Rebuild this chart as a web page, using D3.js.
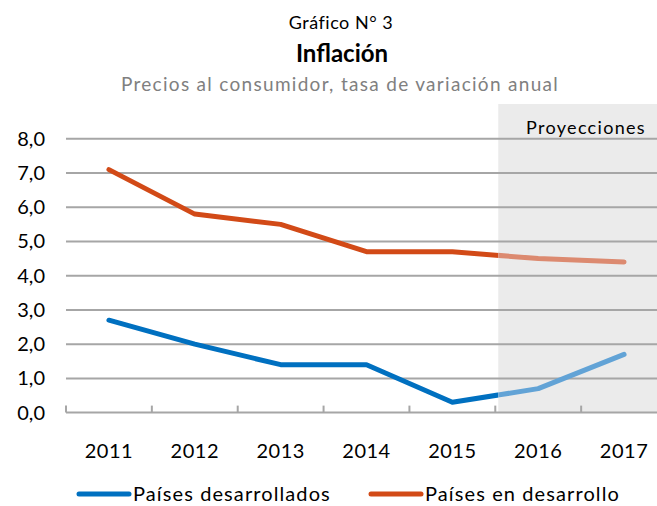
<!DOCTYPE html>
<html>
<head>
<meta charset="utf-8">
<script src="https://cdn.jsdelivr.net/npm/d3@7"></script>
<style>
  body { margin: 0; background: #fff; }
  svg { display: block; font-family: Lato, "Open Sans", sans-serif; }
</style>
</head>
<body>
<svg id="chart" width="657" height="506"></svg>
<script>
// data
const years = ['2011', '2012', '2013', '2014', '2015', '2016', '2017'];
const desarrollados = [2.7, 2.0, 1.4, 1.4, 0.3, 0.7, 1.7];
const enDesarrollo = [7.1, 5.8, 5.5, 4.7, 4.7, 4.5, 4.4];
const yTicks = [0, 1, 2, 3, 4, 5, 6, 7, 8];
const firstProjection = '2016';

const svg = d3.select('#chart');
const W = 657;

const x = d3.scaleBand().domain(years).range([66, 667]).padding(0);
const y = d3.scaleLinear().domain([0, 8]).range([412.6, 138.8]);
const cx = d => x(d) + x.bandwidth() / 2;
const fmt = v => d3.format('.1f')(v).replace('.', ',');

// titles
svg.append('text').attr('x', 341).attr('y', 29).attr('text-anchor', 'middle')
   .style('font-size', '18px').style('letter-spacing', '0.5px').text('Gráfico N° 3');
svg.append('text').attr('x', 342).attr('y', 62).attr('text-anchor', 'middle')
   .style('font-size', '24px').style('font-weight', 'bold').text('Inflación');
svg.append('text').attr('x', 340).attr('y', 91).attr('text-anchor', 'middle')
   .style('font-size', '19px').style('letter-spacing', '1.3px').attr('fill', '#808080')
   .text('Precios al consumidor, tasa de variación anual');

// projection shade
const shadeX = x(firstProjection) + 3;
svg.append('rect').attr('x', shadeX).attr('y', 104)
   .attr('width', W - shadeX).attr('height', y(0) - 104)
   .attr('fill', '#ebebeb');
svg.append('text').attr('x', 586).attr('y', 134).attr('text-anchor', 'middle')
   .style('font-size', '18px').style('letter-spacing', '1.3px').text('Proyecciones');

// gridlines
svg.selectAll('.grid').data(yTicks.slice(1)).enter().append('line')
   .attr('x1', 66).attr('x2', W)
   .attr('y1', d => y(d)).attr('y2', d => y(d))
   .attr('stroke', '#a6a6a6').attr('stroke-width', 2);

// y labels
svg.selectAll('.ylab').data(yTicks).enter().append('text')
   .attr('x', 45).attr('y', d => y(d)).attr('dy', '0.35em')
   .attr('text-anchor', 'end').style('font-size', '20px')
   .text(d => fmt(d));

// x axis
const xAxis = svg.append('g').attr('transform', `translate(0,${y(0)})`)
   .call(d3.axisBottom(x).tickSize(0).tickPadding(0));
xAxis.select('.domain').remove();
xAxis.selectAll('text').attr('y', 45).attr('dy', 0).style('font-size', '20px')
   .style('letter-spacing', '0.5px')
   .style('font-family', 'Lato, sans-serif').attr('fill', '#000');
svg.append('line').attr('x1', 66).attr('x2', W).attr('y1', y(0)).attr('y2', y(0))
   .attr('stroke', '#a6a6a6').attr('stroke-width', 2);
svg.selectAll('.xtick').data(years).enter().append('line')
   .attr('x1', d => x(d)).attr('x2', d => x(d))
   .attr('y1', y(0) - 7).attr('y2', y(0))
   .attr('stroke', '#a6a6a6').attr('stroke-width', 2);

// clip: history vs projection
const defs = svg.append('defs');
defs.append('clipPath').attr('id', 'hist').append('rect')
   .attr('x', 0).attr('y', 0).attr('width', shadeX).attr('height', 506);
defs.append('clipPath').attr('id', 'proj').append('rect')
   .attr('x', shadeX).attr('y', 0).attr('width', W - shadeX).attr('height', 506);

const line = d3.line().x((d, i) => cx(years[i])).y(d => y(d));
const series = [
  { name: 'Países desarrollados', values: desarrollados, dark: '#0070c0', light: '#62a3d6' },
  { name: 'Países en desarrollo', values: enDesarrollo, dark: '#d24a17', light: '#dc8a70' }
];
series.forEach(s => {
  svg.append('path').attr('d', line(s.values)).attr('clip-path', 'url(#hist)')
     .attr('fill', 'none').attr('stroke', s.dark).attr('stroke-width', 5)
     .attr('stroke-linejoin', 'round').attr('stroke-linecap', 'round');
  svg.append('path').attr('d', line(s.values)).attr('clip-path', 'url(#proj)')
     .attr('fill', 'none').attr('stroke', s.light).attr('stroke-width', 5)
     .attr('stroke-linejoin', 'round').attr('stroke-linecap', 'round');
});

// legend
const legX = [79, 371];
series.forEach((s, i) => {
  svg.append('line').attr('x1', legX[i]).attr('x2', legX[i] + 50)
     .attr('y1', 494).attr('y2', 494)
     .attr('stroke', s.dark).attr('stroke-width', 5).attr('stroke-linecap', 'round');
  svg.append('text').attr('x', legX[i] + 54).attr('y', 501)
     .style('font-size', '20px').style('letter-spacing', '1.1px').text(s.name);
});
</script>
</body>
</html>
